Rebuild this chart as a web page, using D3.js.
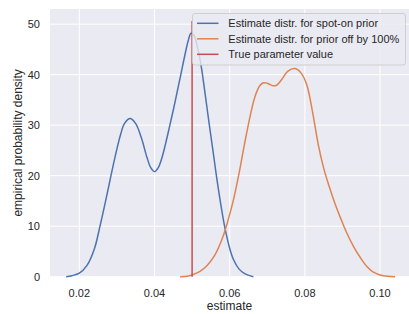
<!DOCTYPE html>
<html><head><meta charset="utf-8">
<script src="https://cdn.jsdelivr.net/npm/d3@7"></script>
<style>body{margin:0;background:#fff}svg{display:block}text{font-family:"Liberation Sans",Arial,sans-serif;fill:#262626}</style>
</head><body><svg id="c" width="409" height="314"></svg>
<script>
const xTicks = [0.02, 0.04, 0.06, 0.08, 0.10];
const yTicks = [0, 10, 20, 30, 40, 50];
const seriesNames = ["Estimate distr. for spot-on prior", "Estimate distr. for prior off by 100%", "True parameter value"];
const trueValue = 0.05;
const trueLineHeight = 50.6;
const spotOn = [
  [0.0165,0],[0.018,0.2],[0.020,0.7],[0.022,2.2],[0.024,5.5],[0.0255,10],[0.027,15],[0.0285,20.3],
  [0.030,25.3],[0.031,28.2],[0.032,30.3],[0.0335,31.3],[0.035,30.3],[0.0365,27.5],[0.038,23.6],
  [0.039,21.6],[0.040,20.8],[0.041,21.6],[0.042,23.6],[0.043,26.5],[0.044,29.7],[0.045,33],
  [0.046,36.5],[0.047,40],[0.048,43.6],[0.049,46.8],[0.0497,48.2],[0.0505,47.8],[0.0515,45.2],
  [0.0525,41.3],[0.0535,36],[0.0545,30.5],[0.0555,25.2],[0.0565,19.8],[0.0577,14],[0.0588,9.4],
  [0.060,5.6],[0.061,3.4],[0.0625,1.5],[0.064,0.6],[0.0663,0]
];
const offPrior = [
  [0.0468,0],[0.049,0.15],[0.050,0.35],[0.052,1],[0.054,2.2],[0.056,4.2],[0.058,7.5],[0.0595,11],
  [0.061,15.2],[0.0625,20.5],[0.064,26.5],[0.0655,32],[0.0667,35.6],[0.068,37.8],[0.069,38.4],
  [0.070,38.3],[0.0715,37.8],[0.0725,37.9],[0.074,39.2],[0.0755,40.7],[0.0774,41.2],[0.079,40.3],
  [0.0805,38],[0.082,32.8],[0.0836,26],[0.085,21.5],[0.0865,17.8],[0.088,14.5],[0.0895,11.6],
  [0.091,8.9],[0.093,5.9],[0.095,3.5],[0.0965,2],[0.098,1],[0.100,0.35],[0.102,0.08],[0.104,0]
];
const colors = ["#4C72B0", "#DD8452", "#C44E52"];

const L = 50, R = 409, T = 9, B = 276.7;
const x = d3.scaleLinear().domain([0.0122, 0.1077]).range([L, R]);
const y = d3.scaleLinear().domain([0, 53]).range([B, T]);
const svg = d3.select("#c");

svg.append("rect").attr("x", L).attr("y", T).attr("width", R - L).attr("height", B - T).attr("fill", "#EAEAF2");

const gx = svg.append("g");
gx.selectAll("line").data(xTicks).join("line")
  .attr("x1", d => x(d)).attr("x2", d => x(d)).attr("y1", T).attr("y2", B)
  .attr("stroke", "#fff").attr("stroke-width", 1);
gx.selectAll("text").data(xTicks).join("text")
  .attr("x", d => x(d)).attr("y", 292.5).attr("text-anchor", "middle").attr("dominant-baseline", "central")
  .attr("font-size", 11).text(d => d3.format(".2f")(d));

const gy = svg.append("g");
gy.selectAll("line").data(yTicks).join("line")
  .attr("x1", L).attr("x2", R).attr("y1", d => y(d)).attr("y2", d => y(d))
  .attr("stroke", "#fff").attr("stroke-width", 1);
gy.selectAll("text").data(yTicks).join("text")
  .attr("x", 40).attr("y", d => y(d)).attr("text-anchor", "end").attr("dominant-baseline", "central")
  .attr("font-size", 11).text(d => d);

svg.append("text").attr("x", (L + R) / 2).attr("y", 306).attr("text-anchor", "middle")
  .attr("dominant-baseline", "central").attr("font-size", 12).text("estimate");
svg.append("text").attr("transform", `translate(17.5,${(T + B) / 2}) rotate(-90)`).attr("text-anchor", "middle")
  .attr("dominant-baseline", "central").attr("font-size", 12).text("empirical probability density");

const line = d3.line().x(d => x(d[0])).y(d => Math.min(y(0), y(d[1]))).curve(d3.curveCatmullRom.alpha(0.5));
[spotOn, offPrior].forEach((s, i) => {
  svg.append("path").attr("d", line(s)).attr("fill", "none").attr("stroke", colors[i]).attr("stroke-width", 1.5);
});
svg.append("line").attr("x1", x(trueValue)).attr("x2", x(trueValue)).attr("y1", y(0)).attr("y2", y(trueLineHeight))
  .attr("stroke", colors[2]).attr("stroke-width", 1.5);

const lg = svg.append("g");
lg.append("rect").attr("x", 192.5).attr("y", 13.5).attr("width", 213).attr("height", 51.5).attr("rx", 2.5)
  .attr("fill", "#EAEAF2").attr("fill-opacity", 0.8).attr("stroke", "#cccccc").attr("stroke-width", 0.9);
seriesNames.forEach((n, i) => {
  const yy = 23.3 + i * 15.5;
  lg.append("line").attr("x1", 197).attr("x2", 218.5).attr("y1", yy).attr("y2", yy)
    .attr("stroke", colors[i]).attr("stroke-width", 1.5);
  lg.append("text").attr("x", 228.3).attr("y", yy).attr("dominant-baseline", "central").attr("font-size", 11).text(n);
});
</script></body></html>
